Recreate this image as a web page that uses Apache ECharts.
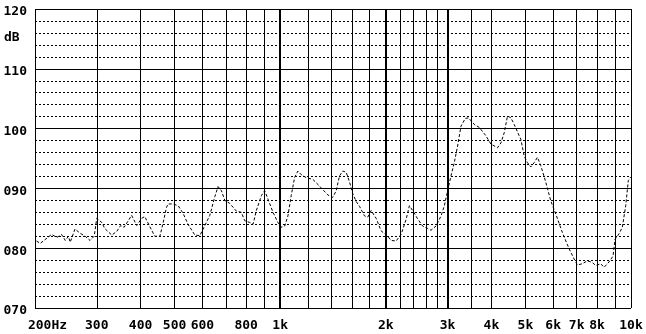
<!DOCTYPE html>
<html>
<head>
<meta charset="utf-8">
<script src="https://cdn.jsdelivr.net/npm/echarts@6/dist/echarts.min.js"></script>
<style>
  html, body { margin: 0; padding: 0; background: #fff; }
  #chart { width: 646px; height: 334px; }
</style>
</head>
<body>
<div id="chart"></div>
<script>
// response curve (Hz, dB)
const freqs = [
  202, 207, 223, 231, 238, 244, 249, 252, 260, 269, 278, 287, 295, 300,
  310, 316, 331, 342, 351, 359, 369, 377, 390, 403, 411, 425, 439, 454,
  464, 474, 479, 495, 512, 529, 546, 571, 590, 610, 630, 651, 665, 680,
  695, 718, 750, 775, 792, 819, 837, 855, 884, 903, 923, 954, 985, 1008,
  1030, 1052, 1075, 1099, 1123, 1148, 1186, 1239, 1294, 1367, 1412, 1444,
  1476, 1508, 1542, 1576, 1610, 1647, 1683, 1739, 1777, 1817, 1877, 1939,
  2025, 2071, 2140, 2211, 2285, 2335, 2386, 2465, 2547, 2632, 2691, 2781,
  2874, 2937, 3001, 3068, 3135, 3204, 3276, 3370, 3443, 3574, 3693, 3859,
  3988, 4164, 4258, 4351, 4446, 4546, 4645, 4800, 4854, 4960, 5068, 5182,
  5296, 5411, 5533, 5718, 5908, 6105, 6375, 6661, 6883, 7034, 7268, 7510,
  7761, 7935, 8200, 8379, 8658, 8888, 9006, 9244, 9446, 9659, 9825, 9981
];
const levels = [
  81.2, 80.8, 82.3, 81.8, 82.3, 81.3, 82.0, 81.0, 83.2, 82.5, 82.0, 81.3, 82.0, 85.0,
  84.3, 83.3, 82.2, 82.8, 83.8, 83.5, 84.6, 85.5, 83.8, 85.0, 85.3, 83.6, 82.0, 82.0,
  84.3, 86.8, 87.4, 87.4, 87.1, 85.8, 84.0, 82.2, 82.1, 83.8, 85.5, 88.6, 90.3, 89.6,
  88.0, 87.5, 86.2, 86.0, 84.6, 84.3, 84.0, 86.3, 88.8, 89.6, 88.2, 86.0, 84.3, 83.5,
  83.7, 85.4, 88.8, 91.8, 92.9, 92.3, 91.8, 91.5, 90.4, 88.9, 88.5, 89.6,
  92.1, 92.9, 92.7, 91.1, 89.1, 87.8, 87.0, 85.4, 85.2, 86.3, 85.0, 82.9,
  82.0, 81.3, 81.2, 82.3, 84.8, 87.1, 86.3, 84.9, 83.7, 83.3, 83.0, 83.7,
  85.4, 87.1, 89.6, 92.1, 94.3, 97.1, 100.4, 101.7, 101.8, 100.7, 100.2, 98.8,
  97.4, 96.8, 97.6, 99.3, 102.1, 101.8, 100.7, 98.8, 98.2, 95.4, 94.3, 93.6,
  94.3, 95.2, 93.8, 91.0, 87.9, 85.7, 82.6, 79.9, 78.2, 77.2, 77.4, 77.9,
  77.6, 77.1, 77.4, 76.8, 77.7, 78.7, 81.5, 82.4, 83.5, 87.1, 91.3, 91.9
];

// vertical grid lines and the heavy ones
const gridFreqs = [200, 300, 400, 500, 600, 700, 800, 900, 1000, 1200, 1400, 1600, 1800,
  2000, 2200, 2400, 2600, 2800, 3000, 3500, 4000, 5000, 6000, 7000, 8000, 9000, 10000];
const boldFreqs = [1000, 2000, 3000];

// x tick labels
const labelFreqs = [200, 300, 400, 500, 600, 800, 1000, 2000, 3000, 4000, 5000, 6000, 7000, 8000, 10000];
const labelTexts = ['200Hz', '300', '400', '500', '600', '800', '1k', '2k', '3k', '4k', '5k', '6k', '7k', '8k', '10k'];

const yMin = 70, yMax = 120;

const font = '"DejaVu Sans Mono", monospace';
const txt = { fontFamily: font, fontWeight: 'bold', fontSize: 13, color: '#000' };
const chart = echarts.init(document.getElementById('chart'));

chart.setOption({
  backgroundColor: '#fff',
  animation: false,
  grid: { left: 35, right: 15, top: 9, bottom: 26 },
  xAxis: {
    type: 'log',
    logBase: 10,
    min: 200,
    max: 10000,
    axisLine: { show: false },
    axisTick: { show: false, customValues: gridFreqs },
    splitLine: { show: true, lineStyle: { color: '#000', width: 1 } },
    axisLabel: Object.assign({
      customValues: labelFreqs,
      margin: 11,
      formatter: function (v) {
        const i = labelFreqs.indexOf(Math.round(v));
        if (i === 0) return '{first|' + labelTexts[0] + '}';
        return i >= 0 ? labelTexts[i] : '';
      },
      rich: { first: Object.assign({ padding: [0, 0, 0, 25] }, txt) }
    }, txt)
  },
  yAxis: [
    {
      type: 'value',
      min: yMin,
      max: yMax,
      interval: 10,
      axisLine: { show: false },
      axisTick: { show: false },
      splitLine: { show: true, lineStyle: { color: '#000', width: 1 } },
      axisLabel: Object.assign({
        margin: 8,
        formatter: v => '{v|' + String(v).padStart(3, '0') + '}',
        rich: { v: Object.assign({ padding: [6, 0, 0, 0] }, txt) }
      }, txt)
    },
    {
      type: 'value',
      min: yMin,
      max: yMax,
      interval: 2,
      axisLine: { show: false },
      axisTick: { show: false },
      axisLabel: { show: false },
      splitLine: { show: true, lineStyle: { color: '#000', width: 1, type: [2, 2] } }
    }
  ],
  graphic: [
    { type: 'text', left: 4, top: 31, style: { text: 'dB', fill: '#000', font: 'bold 13px ' + font } }
  ],
  series: [
    {
      type: 'line',
      yAxisIndex: 0,
      data: freqs.map((f, i) => [f, levels[i]]),
      symbol: 'none',
      lineStyle: { color: '#000', width: 1, type: [3, 2] },
      z: 5,
      markLine: {
        silent: true,
        symbol: 'none',
        label: { show: false },
        lineStyle: { color: '#000', width: 2, type: 'solid' },
        data: boldFreqs.map(f => ({ xAxis: f }))
      }
    }
  ]
});
</script>
</body>
</html>
